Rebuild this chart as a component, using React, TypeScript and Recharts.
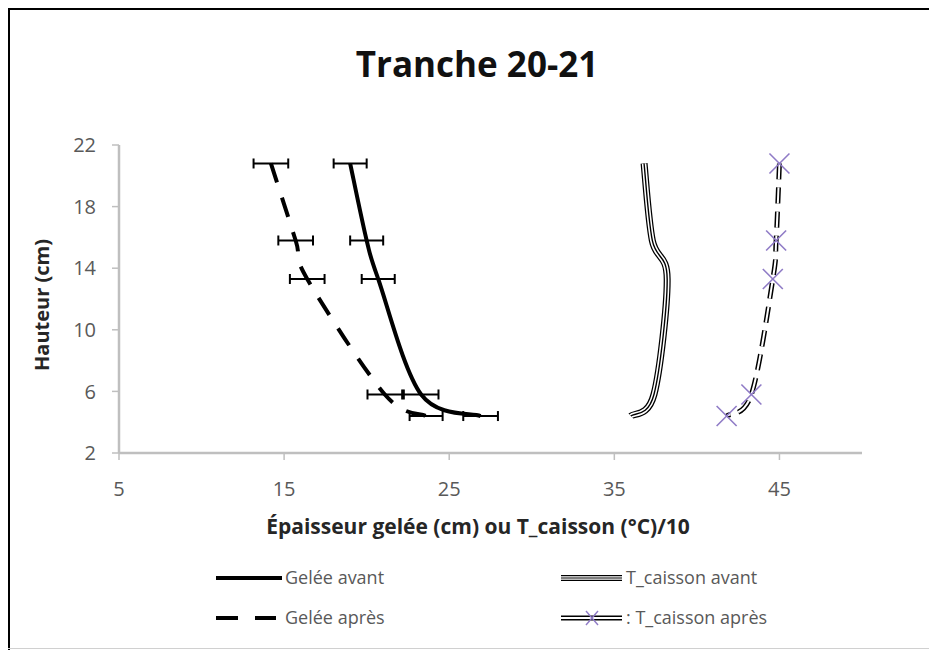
import { LineChart, Line, XAxis, YAxis, ErrorBar } from "recharts";

// hauteurs communes (cm)
const heights = [20.8, 15.8, 13.3, 5.8, 4.4];

// épaisseur gelée (cm)
const geleeAvant = [19.0, 20.0, 20.7, 23.3, 26.9];
const geleeAvantErr = [1.0, 1.0, 1.0, 1.05, 1.05];
const geleeApres = [14.2, 15.7, 16.4, 21.1, 23.6];
const geleeApresErr = [1.05, 1.05, 1.05, 1.05, 1.0];

// T_caisson (°C)/10
const tCaissonAvant = [36.8, 37.3, 38.2, 37.4, 36.0];
const tCaissonApres = [45.0, 44.8, 44.6, 43.3, 41.8];

const xTicks = [5, 15, 25, 35, 45];
const yTicks = [2, 6, 10, 14, 18, 22];

const rows = heights.map((h, i) => ({
  h,
  geleeAvant: geleeAvant[i],
  geleeAvantErr: geleeAvantErr[i],
  geleeApres: geleeApres[i],
  geleeApresErr: geleeApresErr[i],
  tCaissonAvant: tCaissonAvant[i],
  tCaissonApres: tCaissonApres[i],
}));

const FONT = '"Open Sans", "DejaVu Sans", sans-serif';
const PURPLE = "#8f7bc6";
const AXIS = "#bfbfbf";
const TEXT = "#595959";

const W = 929;
const H = 642;

// lissage "à la Excel" (Catmull-Rom), passe par tous les points
const smooth = (context: any) => {
  let pts: [number, number][] = [];
  return {
    areaStart() {},
    areaEnd() {},
    lineStart() {
      pts = [];
    },
    lineEnd() {
      if (!pts.length) return;
      context.moveTo(pts[0][0], pts[0][1]);
      const t = 1 / 6;
      for (let i = 0; i < pts.length - 1; i++) {
        const p0 = pts[i - 1] || pts[i];
        const p1 = pts[i];
        const p2 = pts[i + 1];
        const p3 = pts[i + 2] || p2;
        context.bezierCurveTo(
          p1[0] + (p2[0] - p0[0]) * t,
          p1[1] + (p2[1] - p0[1]) * t,
          p2[0] - (p3[0] - p1[0]) * t,
          p2[1] - (p3[1] - p1[1]) * t,
          p2[0],
          p2[1]
        );
      }
    },
    point(x: number, y: number) {
      pts.push([+x, +y]);
    },
  };
};

const CrossDot = (props: any) => {
  const { cx, cy, index } = props;
  if (cx == null || cy == null) return <g key={`cross-${index}`} />;
  const s = 10;
  return (
    <g key={`cross-${index}`} stroke={PURPLE} strokeWidth={1.6}>
      <line x1={cx - s} y1={cy - s} x2={cx + s} y2={cy + s} />
      <line x1={cx - s} y1={cy + s} x2={cx + s} y2={cy - s} />
    </g>
  );
};

const tickStyle = { fill: TEXT, fontSize: 20, fontFamily: FONT };

const Overlay = () => (
  <svg width={W} height={H} style={{ position: "absolute", left: 0, top: 0, pointerEvents: "none" }}>
    <text x={469} y={69} textAnchor="middle" fontSize={35} fontWeight={700} fontFamily={FONT} fill="#111">
      Tranche 20-21
    </text>
    <text x={470} y={526} textAnchor="middle" fontSize={21} fontWeight={700} fontFamily={FONT} fill="#262626">
      Épaisseur gelée (cm) ou T_caisson (°C)/10
    </text>
    <text
      x={41}
      y={297}
      textAnchor="middle"
      fontSize={20}
      fontWeight={700}
      fontFamily={FONT}
      fill="#262626"
      transform="rotate(-90 41 297)"
    >
      Hauteur (cm)
    </text>

    {/* légende */}
    <g fontSize={18} fontFamily={FONT} fill={TEXT}>
      <line x1={208} y1={570} x2={274} y2={570} stroke="#000" strokeWidth={4} />
      <text x={277} y={576}>Gelée avant</text>

      <line x1={208} y1={610} x2={268} y2={610} stroke="#000" strokeWidth={4} strokeDasharray="22 17" />
      <text x={277} y={616}>Gelée après</text>

      <line x1={553} y1={570} x2={614} y2={570} stroke="#000" strokeWidth={6} />
      <line x1={553} y1={570} x2={614} y2={570} stroke="#fff" strokeWidth={3.5} />
      <line x1={553} y1={570} x2={614} y2={570} stroke="#000" strokeWidth={1.2} />
      <text x={618} y={576}>T_caisson avant</text>

      <line x1={553} y1={610} x2={614} y2={610} stroke="#000" strokeWidth={5} />
      <line x1={553} y1={610} x2={614} y2={610} stroke="#fff" strokeWidth={2} />
      <g stroke={PURPLE} strokeWidth={1.4}>
        <line x1={578} y1={603} x2={590} y2={617} />
        <line x1={578} y1={617} x2={590} y2={603} />
      </g>
      <text x={618} y={616}>: T_caisson après</text>
    </g>
  </svg>
);

export default function App() {
  return (
    <div style={{ position: "relative", width: W, height: H, background: "#fff", fontFamily: FONT }}>
      <div style={{ position: "absolute", left: 0, top: 0, width: W, height: 2, background: "#000" }} />
      <div style={{ position: "absolute", left: 0, top: 0, width: 2, height: H, background: "#000" }} />
      <div style={{ position: "absolute", left: 0, top: H - 2, width: W, height: 1, background: "#d0d0d0" }} />
      <div style={{ position: "absolute", left: 0, top: 0 }}>
        <LineChart
          width={W}
          height={H}
          layout="vertical"
          data={rows}
          margin={{ top: 137, right: 75, bottom: 157, left: 51 }}
        >
          <XAxis
            type="number"
            dataKey="geleeAvant"
            domain={[5, 50]}
            ticks={xTicks}
            interval={0}
            allowDataOverflow
            height={40}
            stroke={AXIS}
            axisLine={{ stroke: AXIS, strokeWidth: 2.5 }}
            tickLine={{ stroke: AXIS, strokeWidth: 1.5 }}
            tickSize={7}
            tickMargin={22}
            tick={tickStyle}
          />
          <YAxis
            type="number"
            dataKey="h"
            domain={[2, 22]}
            ticks={yTicks}
            interval={0}
            allowDataOverflow
            reversed
            width={60}
            stroke={AXIS}
            axisLine={{ stroke: AXIS, strokeWidth: 2.5 }}
            tickLine={{ stroke: AXIS, strokeWidth: 1.5 }}
            tickSize={7}
            tickMargin={16}
            tick={tickStyle}
          />

          {/* T_caisson avant : trait triple */}
          <Line dataKey="tCaissonAvant" type={smooth as any} stroke="#000" strokeWidth={7} dot={false} isAnimationActive={false} />
          <Line dataKey="tCaissonAvant" type={smooth as any} stroke="#fff" strokeWidth={4.5} dot={false} isAnimationActive={false} />
          <Line dataKey="tCaissonAvant" type={smooth as any} stroke="#000" strokeWidth={1.4} dot={false} isAnimationActive={false} />

          {/* T_caisson après : double tiret + croix */}
          <Line
            dataKey="tCaissonApres"
            type={smooth as any}
            stroke="#000"
            strokeWidth={5}
            strokeDasharray="16 8"
            dot={false}
            isAnimationActive={false}
          />
          <Line
            dataKey="tCaissonApres"
            type={smooth as any}
            stroke="#fff"
            strokeWidth={2}
            strokeDasharray="16 8"
            dot={CrossDot}
            isAnimationActive={false}
          />

          <Line
            dataKey="geleeApres"
            type={smooth as any}
            stroke="#000"
            strokeWidth={4}
            strokeDasharray="20 16"
            dot={false}
            isAnimationActive={false}
          >
            <ErrorBar dataKey="geleeApresErr" direction="x" width={5} stroke="#000" strokeWidth={2} isAnimationActive={false} />
          </Line>
          <Line dataKey="geleeAvant" type={smooth as any} stroke="#000" strokeWidth={4} dot={false} isAnimationActive={false}>
            <ErrorBar dataKey="geleeAvantErr" direction="x" width={5} stroke="#000" strokeWidth={2} isAnimationActive={false} />
          </Line>
        </LineChart>
      </div>
      <Overlay />
    </div>
  );
}
